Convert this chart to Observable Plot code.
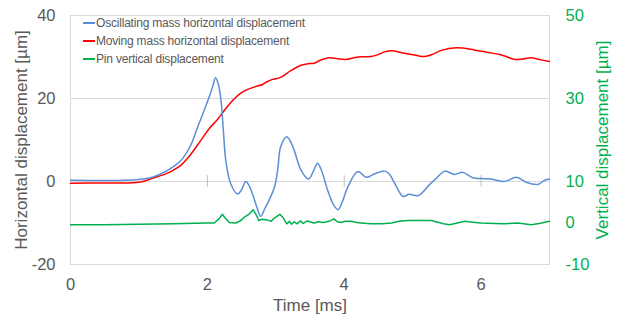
<!DOCTYPE html>
<html><head><meta charset="utf-8">
<script src="https://cdn.jsdelivr.net/npm/d3@7"></script>
<script src="https://cdn.jsdelivr.net/npm/@observablehq/plot@0.6"></script>
<style>
body{margin:0;background:#fff;}
#wrap{position:relative;width:621px;height:316px;font-family:"Liberation Sans",Arial,sans-serif;}
#legend{position:absolute;left:83px;top:14px;font-size:12px;color:#595959;letter-spacing:-0.2px;}
.row{display:flex;align-items:center;height:18px;white-space:nowrap}
.sw{width:12px;height:1.5px;margin-right:1px}
</style></head><body><div id="wrap"><div id="legend"></div></div>
<script>
const seriesNames = ["Oscillating mass horizontal displacement", "Moving mass horizontal displacement", "Pin vertical displacement"];
const seriesColors = ["#5B8ED6", "#FF0000", "#00B050"];

const xTicks = [0, 2, 4, 6];
const yTicksLeft = [-20, 0, 20, 40];
const yTicksRight = [50, 30, 10, 0, -10];
const rightOffset = 10; // right axis value = left axis value + 10

const oscT = [0,0.5,0.8,1.0,1.17,1.3,1.45,1.61,1.75,1.855,1.95,2.025,2.08,2.12,2.16,2.2,2.235,2.27,2.34,2.44,2.5,2.56,2.61,2.66,2.72,2.78,2.84,2.90,2.98,3.03,3.07,3.16,3.22,3.27,3.37,3.48,3.55,3.61,3.66,3.76,3.84,3.91,3.97,4.05,4.2,4.32,4.44,4.59,4.66,4.73,4.86,4.95,5.08,5.25,5.35,5.47,5.61,5.73,5.88,6.0,6.15,6.34,6.52,6.66,6.83,6.93,7.0];
const oscV = [0.3,0.25,0.3,0.5,0.9,1.7,3.0,5.0,8.5,13,17,20.3,23,25,23.5,19.5,12,5,-0.5,-3,-2,0,-1,-3,-6,-8.4,-6.5,-4.6,-1.4,3,8.3,10.8,9.5,7.5,2.7,0.6,2.5,4.4,3,-2.2,-5.5,-6.8,-5,-1.4,2.4,1,1.8,2.5,1.8,-0.2,-3.6,-3.1,-3.4,-0.7,0.8,2.5,1.7,2.2,0.9,0.7,0.6,0,1,-0.2,-0.7,0.3,0.6];

const movT = [0,0.5,1.0,1.22,1.4,1.5,1.61,1.75,1.9,2.02,2.15,2.27,2.39,2.49,2.59,2.73,2.8,2.88,2.95,3.07,3.22,3.37,3.47,3.56,3.65,3.78,3.9,4.02,4.2,4.39,4.5,4.6,4.71,4.88,5.05,5.17,5.3,5.42,5.64,5.9,6.1,6.27,6.4,6.49,6.6,6.73,6.85,7.0];
const movV = [-0.4,-0.35,-0.2,0.9,1.9,2.7,3.9,6.4,9.8,12.6,15.0,17.6,19.9,21.3,22.2,23.0,23.3,24.1,24.6,25.1,26.7,28.0,28.4,28.5,29.2,29.8,29.6,29.4,30.0,30.1,30.6,31.3,31.5,30.9,30.4,30.1,30.7,31.6,32.2,31.7,31.1,30.6,29.9,29.4,29.5,29.8,29.4,28.9];

// pin vertical displacement, in right-axis units
const pinT = [0,0.5,1.0,1.5,2.0,2.1,2.17,2.22,2.27,2.32,2.42,2.48,2.54,2.6,2.67,2.72,2.75,2.8,2.88,2.93,2.98,3.06,3.11,3.16,3.2,3.23,3.27,3.31,3.36,3.4,3.46,3.52,3.56,3.62,3.7,3.78,3.85,3.9,3.95,4.02,4.1,4.18,4.25,4.39,4.55,4.69,4.8,4.93,5.1,5.27,5.37,5.45,5.54,5.65,5.76,5.88,6.0,6.2,6.34,6.54,6.73,6.85,7.0];
const pinV = [-0.4,-0.4,-0.3,-0.2,0,0,1.0,2.1,1.0,0.1,0,0.5,1.4,2.0,3.2,1.8,0.6,0.9,0.7,0.4,1.2,2.1,1.2,-0.2,0.4,-0.3,0.3,-0.2,0.5,-0.1,0.5,0.2,0,0.3,0.1,0.4,1.0,0.3,0.1,0.4,0.4,0.1,0,-0.2,-0.2,0,0.4,0.6,0.6,0.6,0.2,-0.2,-0.4,0,0.4,0.2,0,-0.1,-0.2,0,-0.4,-0.1,0.4];

const osc = oscT.map((t,i)=>({t, v: oscV[i]}));
const mov = movT.map((t,i)=>({t, v: movV[i]}));
const pin = pinT.map((t,i)=>({t, v: pinV[i] - rightOffset}));

const gray = "#595959";
const font = "'Liberation Sans', Arial, sans-serif";

const chart = Plot.plot({
  width: 621, height: 316,
  marginLeft: 70, marginRight: 72, marginTop: 15, marginBottom: 52,
  style: {fontFamily: font, fontSize: "16.5px", color: gray, background: "#fff", overflow: "visible"},
  x: {domain: [0, 7]},
  y: {domain: [-20, 40]},
  marks: [
    Plot.ruleY([20, 0], {stroke: "#D9D9D9"}),
    Plot.frame({stroke: "#D9D9D9"}),
    Plot.ruleX([2, 4, 6], {y1: -1.4, y2: 1.4, stroke: "#BFBFBF"}),
    Plot.axisX({ticks: xTicks, tickFormat: d => String(d), tickSize: 0, tickPadding: 14, label: null, color: gray, fontSize: 16.5}),
    Plot.axisY({ticks: yTicksLeft, tickFormat: d => String(d), tickSize: 0, tickPadding: 15, label: null, color: gray, fontSize: 16.5}),
    Plot.axisY({anchor: "right", ticks: yTicksRight.map(d => d - rightOffset), tickFormat: d => String(d + rightOffset), tickSize: 0, tickPadding: 16, label: null, color: "#00B050", fontSize: 16.5}),
    Plot.line(pin, {x: "t", y: "v", stroke: seriesColors[2], strokeWidth: 1.5}),
    Plot.line(mov, {x: "t", y: "v", stroke: seriesColors[1], strokeWidth: 1.5, curve: "catmull-rom"}),
    Plot.line(osc, {x: "t", y: "v", stroke: seriesColors[0], strokeWidth: 1.5, curve: "catmull-rom"}),
    Plot.text(["Horizontal displacement [µm]"], {text: d => d, frameAnchor: "left", dx: -49, rotate: -90, textAnchor: "middle", lineAnchor: "middle", fontSize: 17, fill: gray}),
    Plot.text(["Vertical displacement [µm]"], {text: d => d, frameAnchor: "right", dx: 53, rotate: -90, textAnchor: "middle", lineAnchor: "middle", fontSize: 17, fill: "#00B050"}),
    Plot.text(["Time [ms]"], {text: d => d, frameAnchor: "bottom", dy: 41, textAnchor: "middle", lineAnchor: "middle", fontSize: 17, fill: gray})
  ]
});
const wrap = document.getElementById("wrap");
wrap.insertBefore(chart, wrap.firstChild);
chart.style.display = "block";

const legend = document.getElementById("legend");
seriesNames.forEach((name, i) => {
  const row = document.createElement("div");
  row.className = "row";
  const sw = document.createElement("span");
  sw.className = "sw";
  sw.style.background = seriesColors[i];
  const tx = document.createElement("span");
  tx.textContent = name;
  row.appendChild(sw); row.appendChild(tx);
  legend.appendChild(row);
});
</script>
</body></html>
